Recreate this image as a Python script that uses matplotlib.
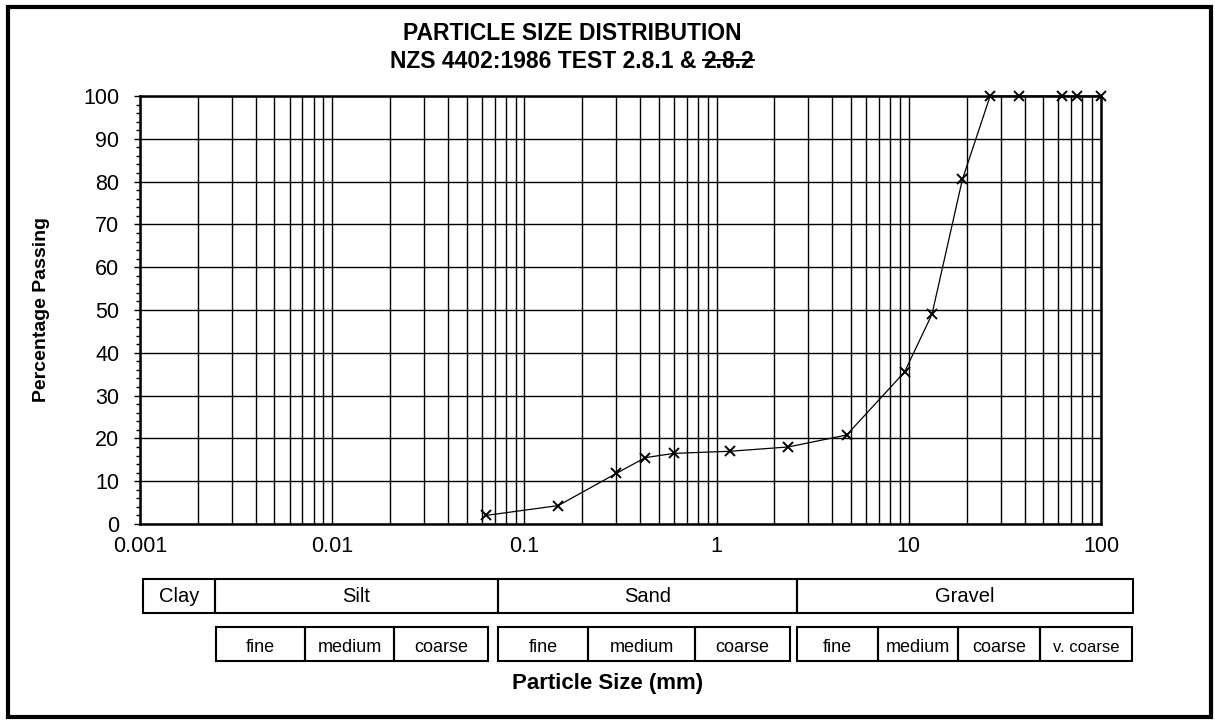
'''
Particle size distribution chart (NZS 4402:1986)
'''

import matplotlib
matplotlib.use('Agg')
import matplotlib.pyplot as plt
from matplotlib.patches import Rectangle
from matplotlib.lines import Line2D
from matplotlib.ticker import LogLocator, MultipleLocator, FixedLocator, NullFormatter


### Data
sieve_mm = [0.063, 0.15, 0.3, 0.425, 0.6, 1.18, 2.36, 4.75, 9.5, 13.2, 19, 26.5, 37.5, 63, 75, 100]
passing = [2, 4.3, 11.8, 15.5, 16.5, 17, 18, 20.8, 35.5, 49, 80.5, 100, 100, 100, 100, 100]

x_ticks = [0.001, 0.01, 0.1, 1, 10, 100]
x_tick_labels = ['0.001', '0.01', '0.1', '1', '10', '100']

soil_classes = ['Clay', 'Silt', 'Sand', 'Gravel']
sub_classes = [['fine', 'medium', 'coarse'],
               ['fine', 'medium', 'coarse'],
               ['fine', 'medium', 'coarse', 'v. coarse']]

title_1 = 'PARTICLE SIZE DISTRIBUTION'
title_2a = 'NZS 4402:1986 TEST 2.8.1 & '
title_2b = '2.8.2'


### Layout (figure pixels)
W, H = 1215, 722
plt.rcParams['font.family'] = ['Liberation Sans', 'DejaVu Sans']

class_edges = [143, 215, 498, 797, 1133]
sub_edges = [[216, 305, 394, 488],
             [498, 588, 695, 790],
             [797, 878, 958, 1040, 1132]]
row1 = (579, 613)
row2 = (627, 661)


def fx(px):
    return px / W


def fy(py):
    return 1 - py / H


fig = plt.figure(figsize=(W / 100, H / 100), dpi=100)
ax = fig.add_axes([fx(140), fy(524), fx(1101) - fx(140), fy(96) - fy(524)])

ax.plot(sieve_mm, passing, color='black', lw=0.9, marker='x', ms=7, mew=1.4, clip_on=False, zorder=5)

ax.set_xscale('log')
ax.set_xlim(0.001, 100)
ax.set_ylim(0, 100)

ax.xaxis.set_major_locator(FixedLocator(x_ticks))
ax.set_xticklabels(x_tick_labels)
ax.xaxis.set_minor_locator(LogLocator(base=10, subs=range(2, 10)))
ax.xaxis.set_minor_formatter(NullFormatter())
ax.yaxis.set_major_locator(MultipleLocator(10))
ax.yaxis.set_minor_locator(MultipleLocator(2))

ax.grid(True, which='major', axis='both', color='black', lw=1.0)
ax.grid(True, which='minor', axis='x', color='black', lw=1.0)
ax.tick_params(axis='x', which='both', length=0, pad=9, labelsize=15.5)
ax.tick_params(axis='y', which='major', length=4, width=1, direction='out', labelsize=15.5, pad=11)
ax.tick_params(axis='y', which='minor', length=3, width=1, direction='out')
for s in ax.spines.values():
    s.set_linewidth(1.8)

fig.text(fx(42), fy(310), 'Percentage Passing', rotation=90, ha='center', va='center',
         fontsize=14, fontweight='bold')


### Titles
fig.text(fx(572), fy(33), title_1, ha='center', va='center', fontsize=16.5, fontweight='bold')
t2a = fig.text(0, fy(61), title_2a, ha='left', va='center', fontsize=16.5, fontweight='bold')
t2b = fig.text(0, fy(61), title_2b, ha='left', va='center', fontsize=16.5, fontweight='bold')
fig.canvas.draw()
r = fig.canvas.get_renderer()
wa = t2a.get_window_extent(r).width
wb = t2b.get_window_extent(r).width
x0 = 572 - (wa + wb) / 2
t2a.set_x(fx(x0))
t2b.set_x(fx(x0 + wa))
fig.add_artist(Line2D([fx(x0 + wa), fx(x0 + wa + wb)], [fy(60), fy(60)], color='black', lw=1.4))


### Classification table
for i, name in enumerate(soil_classes):
    l, rr = class_edges[i], class_edges[i + 1]
    fig.add_artist(Rectangle((fx(l), fy(row1[1])), fx(rr) - fx(l), fy(row1[0]) - fy(row1[1]),
                             fill=False, ec='black', lw=1.5))
    fig.text(fx((l + rr) / 2), fy((row1[0] + row1[1]) / 2), name, ha='center', va='center', fontsize=14.5)

for edges, names in zip(sub_edges, sub_classes):
    for j, name in enumerate(names):
        l, rr = edges[j], edges[j + 1]
        fig.add_artist(Rectangle((fx(l), fy(row2[1])), fx(rr) - fx(l), fy(row2[0]) - fy(row2[1]),
                                 fill=False, ec='black', lw=1.5))
        fs = 12 if name.startswith('v.') else 13
        fig.text(fx((l + rr) / 2), fy((row2[0] + row2[1]) / 2 + 3), name, ha='center', va='center', fontsize=fs)

fig.text(fx(608), fy(684), 'Particle Size (mm)', ha='center', va='center', fontsize=16, fontweight='bold')

# outer frame
fig.add_artist(Rectangle((fx(8), fy(717)), fx(1211) - fx(8), fy(7) - fy(717), fill=False, ec='black', lw=3))

fig.savefig('out.png', dpi=100)
